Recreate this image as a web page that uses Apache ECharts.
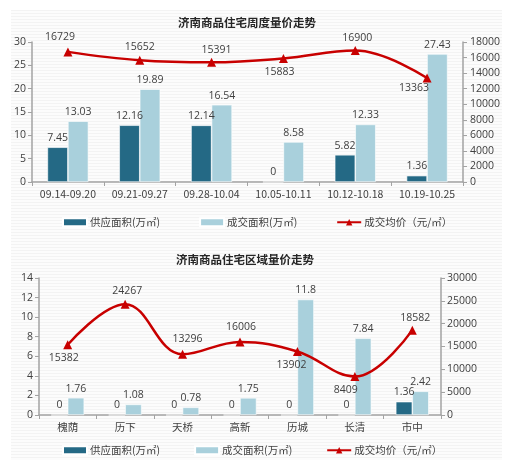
<!DOCTYPE html>
<html>
<head>
<meta charset="utf-8">
<script src="https://cdn.jsdelivr.net/npm/echarts@6/dist/echarts.min.js"></script>
<style>
html,body{margin:0;padding:0;background:#fff;}
#bg{position:absolute;left:11px;top:10px;width:491px;height:450px;
background:repeating-linear-gradient(to bottom,#f3f3f3 0px,#f3f3f3 1px,#fcfcfc 1px,#fcfcfc 3px);}
#chart{position:absolute;left:0;top:0;width:506px;height:474px;}
</style>
</head>
<body>
<div id="bg"></div>
<div id="chart"></div>
<script>
// ---- Top chart data (weekly) ----
const weekCategories = ['09.14-09.20','09.21-09.27','09.28-10.04','10.05-10.11','10.12-10.18','10.19-10.25'];
const weekSupply = [7.45, 12.16, 12.14, 0, 5.82, 1.36];
const weekDeal = [13.03, 19.89, 16.54, 8.58, 12.33, 27.43];
const weekPrice = [16729, 15652, 15391, 15883, 16900, 13363];

// ---- Bottom chart data (districts) ----
const districtCategories = ['槐荫','历下','天桥','高新','历城','长清','市中'];
const districtSupply = [0, 0, 0, 0, 0, 0, 1.36];
const districtDeal = [1.76, 1.08, 0.78, 1.75, 11.8, 7.84, 2.42];
const districtPrice = [15382, 24267, 13296, 16006, 13902, 8409, 18582];

const seriesNames = ['供应面积(万㎡)', '成交面积(万㎡)', '成交均价（元/㎡）'];
const titles = ['济南商品住宅周度量价走势', '济南商品住宅区域量价走势'];

// ---- label placement styles (not data) ----
const weekLabelPos = ['top','top','top','bottom','top','bottom'];
const weekLabelOff = [[-8,-1],[0,1],[5,1],[-4,0],[2,1],[-13,-4]];
const distLabelPos = ['bottom','top','top','top','bottom','bottom','top'];
const distLabelOff = [[-4,0],[2,1],[5,-2],[1,-1],[-6,0],[-9,0],[3,2]];

const FONT = '"Open Sans","Noto Sans CJK SC",sans-serif';
const CJK = '"Noto Sans CJK SC","Open Sans",sans-serif';
const TXT = '#404040';
const AX = '#a3a3a3';
const DARK = '#246985';
const LIGHT = '#a9d0dc';
const RED = '#c80000';

function valAxis(gridIndex, max, interval, pos, margin) {
  return {
    type: 'value', gridIndex, min: 0, max, interval, position: pos,
    axisLine: {show: true, lineStyle: {color: AX, width: 1.5}},
    axisTick: {show: true, length: 4, lineStyle: {color: AX, width: 1}},
    splitLine: {show: false},
    axisLabel: {color: TXT, fontSize: 10.5, fontFamily: FONT, margin, formatter: v => String(v)}
  };
}
function catAxis(gridIndex, data) {
  return {
    type: 'category', gridIndex, data, boundaryGap: true,
    axisLine: {show: true, lineStyle: {color: AX, width: 1.5}},
    axisTick: {show: true, length: 4, lineStyle: {color: AX, width: 1}},
    axisLabel: {color: TXT, fontSize: 10.5, fontFamily: CJK, margin: 7, interval: 0}
  };
}
function barSeries(name, data, color, xi, yi, w) {
  return {
    name, type: 'bar', xAxisIndex: xi, yAxisIndex: yi, data, barWidth: w, barGap: '0%',
    itemStyle: {color, borderColor: '#ffffff', borderWidth: 0.6},
    label: {show: true, position: 'top', distance: 4, color: TXT, fontSize: 10.5, fontFamily: FONT}
  };
}
function lineSeries(name, values, pos, off, xi, yi) {
  return {
    name, type: 'line', xAxisIndex: xi, yAxisIndex: yi, smooth: 0.4,
    data: values.map((v, i) => ({value: v, label: {position: pos[i], offset: off[i]}})),
    symbol: 'triangle', symbolSize: 9,
    lineStyle: {color: RED, width: 2.5},
    itemStyle: {color: RED},
    label: {show: true, distance: 4, color: TXT, fontSize: 10.5, fontFamily: FONT},
    z: 5
  };
}
function legend(top, gap) {
  return {
    top, left: 62, itemGap: gap, itemWidth: 24, itemHeight: 8, padding: 0,
    data: [
      {name: seriesNames[0], icon: 'rect'},
      {name: seriesNames[1], icon: 'rect'},
      {name: seriesNames[2]}
    ],
    textStyle: {color: TXT, fontSize: 10.5, fontFamily: CJK, padding: [0,0,0,-2]}
  };
}

const chart = echarts.init(document.getElementById('chart'), null, {renderer: 'canvas'});
const option = {
  animation: false,
  backgroundColor: 'transparent',
  title: [
    {text: titles[0], left: 178, top: 17, padding: 0,
     textStyle: {fontSize: 11.5, fontWeight: 'bold', color: '#262626', fontFamily: CJK}},
    {text: titles[1], left: 176, top: 254, padding: 0,
     textStyle: {fontSize: 11.5, fontWeight: 'bold', color: '#262626', fontFamily: CJK}}
  ],
  legend: [legend(217, 39), legend(445, 34)],
  grid: [
    {left: 32, right: 43, top: 42, height: 140},
    {left: 39, right: 65, top: 278, height: 137}
  ],
  xAxis: [catAxis(0, weekCategories), catAxis(1, districtCategories)],
  yAxis: [
    valAxis(0, 30, 5, 'left', 6),
    valAxis(0, 18000, 2000, 'right', 7),
    valAxis(1, 14, 2, 'left', 6),
    valAxis(1, 30000, 5000, 'right', 6)
  ],
  series: [
    barSeries(seriesNames[0], weekSupply, DARK, 0, 0, 20.5),
    barSeries(seriesNames[1], weekDeal, LIGHT, 0, 0, 20.5),
    lineSeries(seriesNames[2], weekPrice, weekLabelPos, weekLabelOff, 0, 1),
    barSeries(seriesNames[0], districtSupply, DARK, 1, 2, 16.5),
    barSeries(seriesNames[1], districtDeal, LIGHT, 1, 2, 16.5),
    lineSeries(seriesNames[2], districtPrice, distLabelPos, distLabelOff, 1, 3)
  ]
};
chart.setOption(option);
</script>
</body>
</html>
